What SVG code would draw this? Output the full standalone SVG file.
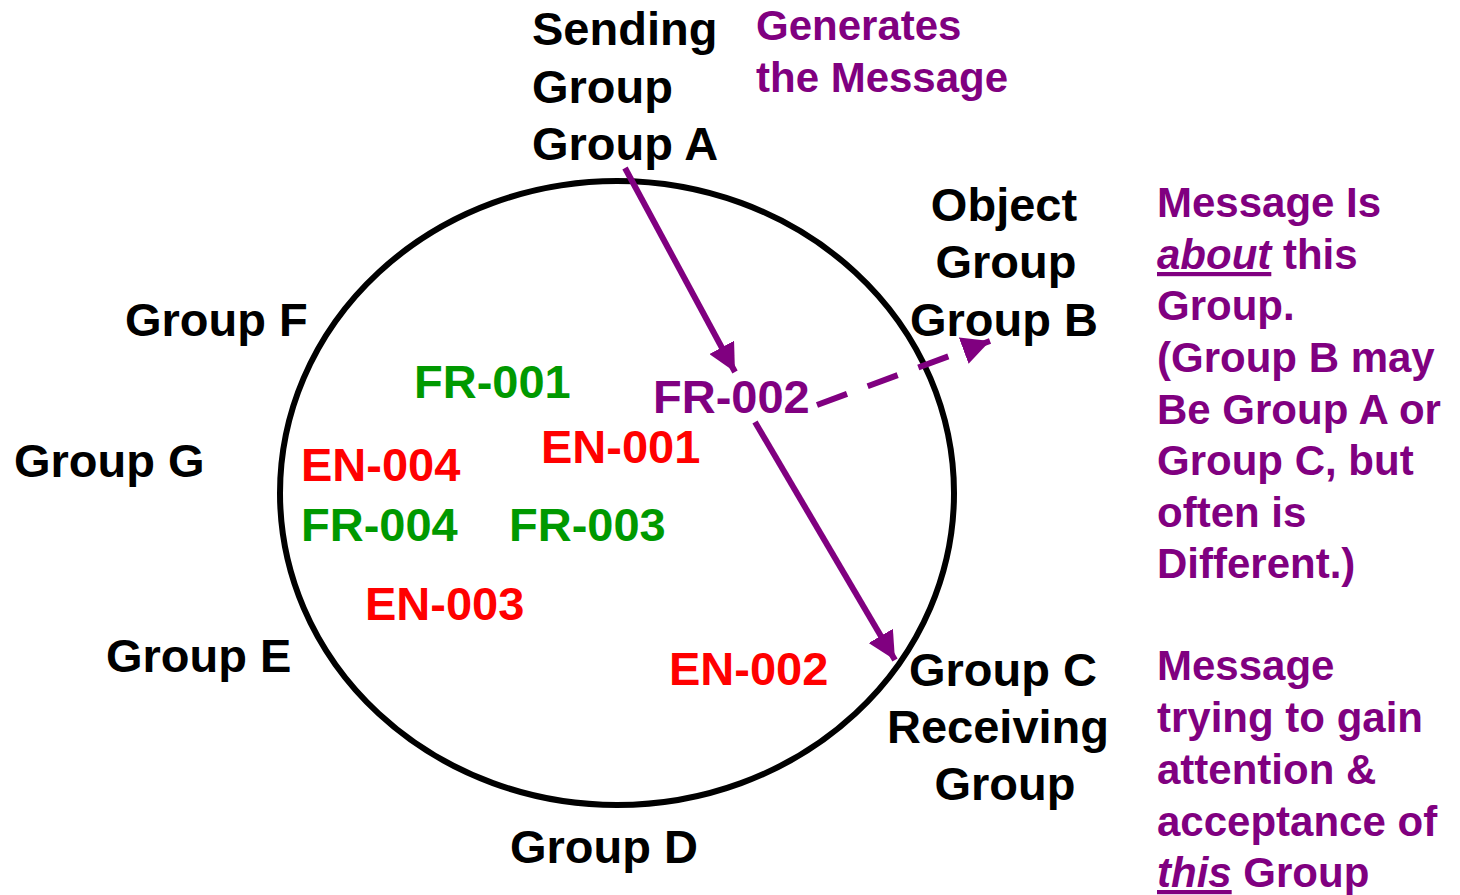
<svg xmlns="http://www.w3.org/2000/svg" width="1460" height="895" viewBox="0 0 1460 895">
<style>
text{font-family:"Liberation Sans",Arial,sans-serif;font-weight:bold;font-size:47px}
.k{fill:#000}
.p{fill:#800080}
.g{fill:#009900}
.r{fill:#ff0000}
.n{font-size:42px;fill:#800080}
.c{text-anchor:middle}
.conn{stroke:#800080;stroke-width:6;fill:none}
</style>
<defs>
<marker id="ah" markerUnits="userSpaceOnUse" markerWidth="32" markerHeight="28" refX="28" refY="14" orient="auto">
<path d="M0,0 L28,14 L0,28 Z" fill="#800080"/>
</marker>
</defs>
<g id="circle"><ellipse cx="617" cy="493" rx="337" ry="312" fill="none" stroke="#000" stroke-width="6"/></g>
<g id="connectors">
<line class="conn" x1="625" y1="168" x2="735" y2="372" marker-end="url(#ah)"/>
<line class="conn" x1="755" y1="422" x2="895" y2="660" marker-end="url(#ah)"/>
<line class="conn" x1="817" y1="405" x2="990" y2="341" stroke-dasharray="32 22" marker-end="url(#ah)"/>
</g>
<g id="groupA"><text class="k" x="532" y="45">Sending</text><text class="k" x="532" y="103">Group</text><text class="k" x="532" y="160">Group A</text></g>
<g id="note-generates"><text class="n" x="756" y="40">Generates</text><text class="n" x="756" y="92">the Message</text></g>
<g id="groupB"><text class="k c" x="1004" y="221">Object</text><text class="k c" x="1006" y="278">Group</text><text class="k c" x="1004" y="336">Group B</text></g>
<g id="groupC"><text class="k c" x="1003" y="686">Group C</text><text class="k c" x="998" y="743">Receiving</text><text class="k c" x="1005" y="800">Group</text></g>
<g id="groupD"><text class="k" x="510" y="863">Group D</text></g>
<g id="groupE"><text class="k" x="106" y="672">Group E</text></g>
<g id="groupF"><text class="k" x="125" y="336">Group F</text></g>
<g id="groupG"><text class="k" x="14" y="477">Group G</text></g>
<g id="fr001"><text class="g" x="414" y="398">FR-001</text></g>
<g id="fr002"><text class="p" x="653" y="413">FR-002</text></g>
<g id="en004"><text class="r" x="301" y="481">EN-004</text></g>
<g id="en001"><text class="r" x="541" y="463">EN-001</text></g>
<g id="fr004"><text class="g" x="301" y="541">FR-004</text></g>
<g id="fr003"><text class="g" x="509" y="541">FR-003</text></g>
<g id="en003"><text class="r" x="365" y="620">EN-003</text></g>
<g id="en002"><text class="r" x="669" y="685">EN-002</text></g>
<g id="note-about">
<text class="n" x="1157" y="217">Message Is</text>
<text class="n" x="1157" y="269"><tspan font-style="italic" text-decoration="underline">about</tspan> this</text>
<text class="n" x="1157" y="320">Group.</text>
<text class="n" x="1157" y="372">(Group B may</text>
<text class="n" x="1157" y="424">Be Group A or</text>
<text class="n" x="1157" y="475">Group C, but</text>
<text class="n" x="1157" y="527">often is</text>
<text class="n" x="1157" y="578">Different.)</text>
</g>
<g id="note-attention">
<text class="n" x="1157" y="680">Message</text>
<text class="n" x="1157" y="732">trying to gain</text>
<text class="n" x="1157" y="784">attention &amp;</text>
<text class="n" x="1157" y="836">acceptance of</text>
<text class="n" x="1157" y="887"><tspan font-style="italic" text-decoration="underline">this</tspan> Group</text>
</g>
</svg>
